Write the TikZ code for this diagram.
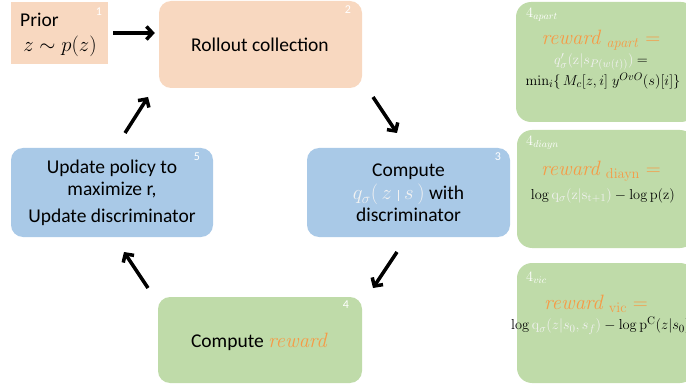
\documentclass[tikz,border=0pt]{standalone}
\usepackage[no-math]{fontspec}
\setmainfont{Carlito}
\usetikzlibrary{arrows.meta}
\definecolor{peach}{HTML}{F8D8C0}
\definecolor{bluebox}{HTML}{A9C9E7}
\definecolor{greenbox}{HTML}{BFDBA9}
\definecolor{orng}{HTML}{F79A45}
\definecolor{qwhite}{HTML}{F2F2F2}
\begin{document}
\begin{tikzpicture}[x=1pt,y=-1pt,
 box/.style={rounded corners=12pt, inner sep=0pt},
 num/.style={text=white, font=\fontsize{12}{14}\selectfont, inner sep=0pt},
 lbl/.style={font=\fontsize{19.5}{23}\selectfont, align=center, inner sep=0pt},
 fml/.style={font=\fontsize{15}{17}\selectfont, inner sep=0pt},
 rwd/.style={font=\fontsize{20}{24}\selectfont, text=orng, inner sep=0pt},
 arr/.style={line width=3.5pt, -{Straight Barb[length=6pt,width=13pt]}},
]
\useasboundingbox (0,0) rectangle (686,385);
\clip (0,0) rectangle (686,385);
% boxes
\node[fill=peach, inner sep=0pt, minimum width=97pt, minimum height=62pt] (prior) at (59.5,33) {};
\node[box, fill=peach, minimum width=203pt, minimum height=87pt] (roll) at (260.5,44.5) {};
\node[box, fill=bluebox, minimum width=203pt, minimum height=89pt] (comp) at (408.5,192.5) {};
\node[box, fill=bluebox, minimum width=202pt, minimum height=89pt] (upd) at (112,192.5) {};
\node[box, fill=greenbox, minimum width=204pt, minimum height=86pt] (rew) at (260,340) {};
\node[box, rounded corners=15pt, fill=greenbox, minimum width=180pt, minimum height=120pt] (apart) at (606,62) {};
\node[box, rounded corners=15pt, fill=greenbox, minimum width=178pt, minimum height=118pt] (diayn) at (606,189) {};
\node[box, rounded corners=15pt, fill=greenbox, minimum width=178pt, minimum height=120pt] (vic) at (606,323) {};
% numbers
\node[num] (n1) at (99,12) {1};
\node[num] (n2) at (348,10) {2};
\node[num] (n3) at (498,157) {3};
\node[num] (n5) at (197,157) {5};
\node[num] (n4) at (346,305) {4};
\node[num, anchor=west, font=\fontsize{14}{16}\selectfont] (n4a) at (526,15) {$4_{apart}$};
\node[num, anchor=west, font=\fontsize{14}{16}\selectfont] (n4d) at (526,143) {$4_{diayn}$};
\node[num, anchor=west, font=\fontsize{14}{16}\selectfont] (n4v) at (526,278) {$4_{vic}$};
% texts
\node[lbl, anchor=west] (tprior) at (20,20) {Prior};
\node[lbl] (tz) at (60,46) {$z \sim p(z)$};
\node[lbl] (troll) at (260,45) {Rollout collection};
\node[lbl, anchor=base] (tcomp1) at (408.5,177) {Compute};
\node[lbl, anchor=base] (tcomp2) at (408.5,200) {\textcolor{qwhite}{$q_\sigma(\,z\mathrel{\rule[-1pt]{0.7pt}{11pt}}s\,)$} with};
\node[lbl, anchor=base] (tcomp3) at (408.5,222) {discriminator};
\node[lbl, font=\fontsize{19.5}{22}\selectfont] (tupd) at (112,193) {Update policy to\\maximize r,\\[5pt]Update discriminator};
\node[lbl] (trew) at (260,342) {Compute \textcolor{orng}{$\mathit{reward}$}};
% right panels
\node[rwd] (ra) at (601,40) {$\mathit{reward}_{\;\mathit{apart}} =$};
\node[fml] (fa1) at (601,62) {\textcolor{qwhite}{$q'_\sigma(\mathrm{z}|s_{P(w(t))})$} $=$};
\node[fml] (fa2) at (603,81) {$\min_i\{\,M_c[z,i]\;y^{OvO}(s)[i]\}$};
\node[rwd] (rd) at (601,171) {$\mathit{reward}_{\;\mathrm{diayn}} =$};
\node[fml] (fd) at (603,196) {$\log \textcolor{qwhite}{\mathrm{q}_\sigma(\mathrm{z}|\mathrm{s}_{\mathrm{t+1}})} - \log \mathrm{p}(\mathrm{z})$};
\node[rwd] (rv) at (596,304) {$\mathit{reward}_{\;\mathrm{vic}} =$};
\node[fml, anchor=west] (fv) at (511,326) {$\log \textcolor{qwhite}{\mathrm{q}_\sigma(z|s_0,s_f)} - \log \mathrm{p}^{\mathrm{C}}(z|s_0)$};
% arrows
\coordinate (a23s) at (373,97);  \coordinate (a23e) at (397,133);
\coordinate (a34s) at (397,252); \coordinate (a34e) at (373,288);
\coordinate (a45s) at (148,288); \coordinate (a45e) at (124,252);
\coordinate (a52s) at (125,133); \coordinate (a52e) at (148,97);
\draw[arr, shorten <=5pt, shorten >=4pt] (prior.east) -- (prior.east -| roll.west);
\draw[arr] (a23s) -- (a23e);
\draw[arr] (a34s) -- (a34e);
\draw[arr] (a45s) -- (a45e);
\draw[arr] (a52s) -- (a52e);
\end{tikzpicture}
\end{document}
